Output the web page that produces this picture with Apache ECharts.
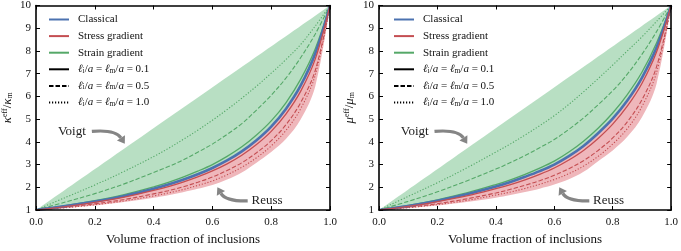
<!DOCTYPE html>
<html><head><meta charset="utf-8">
<script src="https://cdn.jsdelivr.net/npm/echarts@6/dist/echarts.min.js"></script>
<style>html,body{margin:0;padding:0;background:#fff}#c{width:681px;height:251px}</style>
</head><body><div id="c"></div>
<script>
// ---------- data ----------
const fracs = [0, 0.1, 0.2, 0.3, 0.4, 0.45, 0.5, 0.55, 0.6, 0.65, 0.7, 0.75, 0.8, 0.85, 0.9, 0.95, 1.0];
const voigtFracs = [0, 1];
const voigtVals = [1, 10];
const xTicks = [0, 0.2, 0.4, 0.6, 0.8, 1.0];
const yTicks = [1, 2, 3, 4, 5, 6, 7, 8, 9, 10];

// left panel: bulk modulus kappa
const kClassical = [1, 1.17, 1.37, 1.62, 1.93, 2.12, 2.33, 2.57, 2.85, 3.18, 3.58, 4.07, 4.67, 5.45, 6.47, 7.90, 10];
const kStrain01  = [1, 1.19, 1.41, 1.68, 2.02, 2.22, 2.45, 2.71, 3.00, 3.36, 3.78, 4.30, 4.92, 5.72, 6.75, 8.10, 10];
const kStrain05  = [1, 1.35, 1.72, 2.15, 2.65, 2.91, 3.20, 3.54, 3.90, 4.33, 4.80, 5.40, 6.05, 6.80, 7.70, 8.75, 10];
const kStrain10  = [1, 1.55, 2.10, 2.70, 3.35, 3.71, 4.10, 4.51, 4.95, 5.42, 5.92, 6.45, 7.02, 7.62, 8.28, 9.10, 10];
const kStress01  = [1, 1.15, 1.34, 1.57, 1.86, 2.03, 2.23, 2.46, 2.72, 3.03, 3.41, 3.88, 4.46, 5.22, 6.22, 7.65, 10];
const kStress05  = [1, 1.12, 1.27, 1.46, 1.71, 1.85, 2.02, 2.22, 2.45, 2.74, 3.08, 3.52, 4.05, 4.75, 5.72, 7.15, 10];
const kStress10  = [1, 1.10, 1.23, 1.40, 1.62, 1.75, 1.90, 2.08, 2.28, 2.55, 2.88, 3.30, 3.82, 4.50, 5.45, 6.95, 10];
const kReuss     = [1, 1.09, 1.20, 1.35, 1.54, 1.65, 1.78, 1.93, 2.10, 2.34, 2.65, 3.08, 3.55, 4.12, 4.98, 6.45, 10];

// right panel: shear modulus mu
const mClassical = [1, 1.18, 1.41, 1.69, 2.03, 2.23, 2.46, 2.71, 3.00, 3.37, 3.82, 4.38, 5.02, 5.82, 6.82, 8.15, 10];
const mStrain01  = [1, 1.20, 1.45, 1.75, 2.12, 2.33, 2.57, 2.84, 3.15, 3.55, 4.03, 4.60, 5.27, 6.08, 7.06, 8.35, 10];
const mStrain05  = [1, 1.38, 1.80, 2.28, 2.80, 3.09, 3.40, 3.74, 4.10, 4.55, 5.05, 5.63, 6.25, 6.98, 7.85, 8.85, 10];
const mStrain10  = [1, 1.60, 2.20, 2.85, 3.55, 3.91, 4.30, 4.71, 5.15, 5.65, 6.20, 6.78, 7.38, 8.00, 8.62, 9.30, 10];
const mStress01  = [1, 1.16, 1.37, 1.62, 1.94, 2.12, 2.33, 2.57, 2.85, 3.20, 3.62, 4.15, 4.78, 5.57, 6.57, 7.95, 10];
const mStress05  = [1, 1.12, 1.28, 1.49, 1.75, 1.91, 2.09, 2.29, 2.53, 2.82, 3.17, 3.62, 4.17, 4.88, 5.85, 7.30, 10];
const mStress10  = [1, 1.10, 1.24, 1.42, 1.66, 1.79, 1.95, 2.13, 2.34, 2.60, 2.93, 3.36, 3.90, 4.58, 5.55, 7.05, 10];
const mReuss     = [1, 1.09, 1.20, 1.35, 1.54, 1.66, 1.79, 1.94, 2.12, 2.35, 2.68, 3.15, 3.62, 4.22, 5.08, 6.55, 10];

const legendNames = ['Classical', 'Stress gradient', 'Strain gradient', 'l01', 'l05', 'l10'];
const lengthLabels = {l01: '0.1', l05: '0.5', l10: '1.0'};

// ---------- styles ----------
const SERIF = '"Liberation Serif", "DejaVu Serif", serif';
const BLUE = '#4c72b0', RED = '#c44e52', GREEN = '#55a868';
const GREEN_FILL = '#b8dfc3', PINK_FILL = '#efb7bb';
const DASH = [4.5, 2], DOT = [1.2, 1.8];

function pair(xs, ys) { return xs.map((x, i) => [x, ys[i]]); }

const panels = [
  {classical: kClassical, s01: kStrain01, s05: kStrain05, s10: kStrain10,
   t01: kStress01, t05: kStress05, t10: kStress10, reuss: kReuss, sym: 'κ', gap: 22},
  {classical: mClassical, s01: mStrain01, s05: mStrain05, s10: mStrain10,
   t01: mStress01, t05: mStress05, t10: mStress10, reuss: mReuss, sym: 'μ', gap: 23}
];

const grids = [
  {left: 35, right: 351, top: 5, bottom: 35},
  {left: 379, right: 7, top: 5, bottom: 35}
];

const axisLine = {show: true, onZero: false, lineStyle: {color: '#000', width: 1.6}};
const axisTick = {show: true, inside: true, length: 4, lineStyle: {color: '#000', width: 1}};
const labelStyle = {fontFamily: SERIF, fontSize: 11, color: '#111'};

const xAxes = [], yAxes = [], series = [], legends = [];
panels.forEach((p, g) => {
  xAxes.push({gridIndex: g, type: 'value', min: 0, max: 1, interval: 0.2, position: 'bottom', z: 10,
    axisLine, axisTick, splitLine: {show: false},
    axisLabel: Object.assign({margin: 7, formatter: v => v.toFixed(1)}, labelStyle),
    name: 'Volume fraction of inclusions', nameLocation: 'middle', nameGap: 23,
    nameTextStyle: {fontFamily: SERIF, fontSize: 13, color: '#111'}});
  xAxes.push({gridIndex: g, type: 'value', min: 0, max: 1, interval: 0.2, position: 'top', z: 10,
    axisLine, axisTick, splitLine: {show: false}, axisLabel: {show: false}});
  yAxes.push({gridIndex: g, type: 'value', min: 1, max: 10, interval: 1, position: 'left', z: 10,
    axisLine, axisTick, splitLine: {show: false},
    axisLabel: Object.assign({margin: 5}, labelStyle),
    name: `{i|${p.sym}}{sup|eff}{r|/}{i|${p.sym}}{sub|m}`, nameLocation: 'middle', nameGap: p.gap, nameRotate: 90,
    nameTextStyle: {fontFamily: SERIF, fontSize: 13, color: '#111', rich: {
      i: {fontFamily: SERIF, fontSize: 13, fontStyle: 'italic', color: '#111'},
      r: {fontFamily: SERIF, fontSize: 13, color: '#111'},
      sup: {fontFamily: SERIF, fontSize: 8, color: '#111', verticalAlign: 'top'},
      sub: {fontFamily: SERIF, fontSize: 8, color: '#111', verticalAlign: 'bottom'}
    }}});
  yAxes.push({gridIndex: g, type: 'value', min: 1, max: 10, interval: 1, position: 'right', z: 10,
    axisLine, axisTick, splitLine: {show: false}, axisLabel: {show: false}});

  const xi = g * 2, yi = g * 2;
  const area = (name, xs, ys, color, z) => ({
    type: 'line', name, xAxisIndex: xi, yAxisIndex: yi, data: pair(xs, ys), smooth: 0.35,
    symbol: 'none', silent: true, z, lineStyle: {width: 0, opacity: 0},
    areaStyle: {color, opacity: 1, origin: 'start'}
  });
  series.push(area('voigtFill' + g, voigtFracs, voigtVals, GREEN_FILL, 1));
  series.push(area('classicalFill' + g, fracs, p.classical, PINK_FILL, 2));
  series.push(area('reussFill' + g, fracs, p.reuss, '#ffffff', 3));

  const line = (name, ys, color, type, width, z) => ({
    type: 'line', name, xAxisIndex: xi, yAxisIndex: yi, data: pair(fracs, ys), smooth: 0.35,
    symbol: 'none', silent: true, z: z || 5, color,
    lineStyle: {color, type, width}
  });
  series.push(line('sg10_' + g, p.s10, GREEN, DOT, 1.1));
  series.push(line('sg05_' + g, p.s05, GREEN, DASH, 1.1));
  series.push(line('st10_' + g, p.t10, RED, DOT, 1.1));
  series.push(line('st05_' + g, p.t05, RED, DASH, 1.1));
  series.push(line('Strain gradient', p.s01, GREEN, 'solid', 1.3, 6));
  series.push(line('Classical', p.classical, BLUE, 'solid', 2.6, 6));
  series.push(line('Stress gradient', p.t01, RED, 'solid', 1.3, 7));

  legends.push({
    left: g === 0 ? 48 : 393, top: 14, padding: 0, orient: 'vertical',
    itemWidth: 20, itemHeight: 10, itemGap: 5.6, selectedMode: false,
    itemStyle: {opacity: 0, borderWidth: 0},
    data: legendNames,
    formatter: n => lengthLabels[n]
      ? `{it|ℓ}{sb|i}{rm|/}{it|a}{rm| = }{it|ℓ}{sb|m}{rm|/}{it|a}{rm| = ${lengthLabels[n]}}`
      : `{rm|${n}}`,
    textStyle: {fontFamily: SERIF, fontSize: 11, color: '#111', padding: [0, 0, 0, 4], rich: {
      rm: {fontFamily: SERIF, fontSize: 11, color: '#111'},
      it: {fontFamily: SERIF, fontSize: 11, fontStyle: 'italic', color: '#111'},
      sb: {fontFamily: SERIF, fontSize: 7.5, color: '#111', verticalAlign: 'bottom'}
    }}
  });
});

// legend-only black samples
[['l01', 'solid'], ['l05', DASH], ['l10', DOT]].forEach(([n, t]) => {
  series.push({type: 'line', name: n, xAxisIndex: 0, yAxisIndex: 0, data: [], symbol: 'none',
    color: '#000', lineStyle: {color: '#000', type: t, width: 1.4}});
});

const chart = echarts.init(document.getElementById('c'), null, {renderer: 'canvas'});
chart.setOption({
  backgroundColor: '#fff', animation: false,
  grid: grids, xAxis: xAxes, yAxis: yAxes, series, legend: legends
});

// ---------- annotations (positioned in data coordinates) ----------
const notes = {
  voigtText: [0.122, 4.46], voigtTail: [0.19, 4.46], voigtCtrl: [0.27, 4.55], voigtTip: [0.302, 3.92],
  reussText: [0.786, 1.43], reussTail: [0.72, 1.40], reussCtrl: [0.645, 1.38], reussTip: [0.617, 2.0]
};
const graphics = [];
function px(g, d) { return chart.convertToPixel({xAxisIndex: g * 2, yAxisIndex: g * 2}, d); }
function arrow(p0, c, p1) {
  const dx = p1[0] - c[0], dy = p1[1] - c[1], L = Math.hypot(dx, dy);
  const ux = dx / L, uy = dy / L, hl = 7, hw = 4.8;
  const b = [p1[0] - ux * hl, p1[1] - uy * hl];
  graphics.push({type: 'bezierCurve', z: 50,
    shape: {x1: p0[0], y1: p0[1], cpx1: c[0], cpy1: c[1], x2: b[0], y2: b[1]},
    style: {stroke: '#858585', lineWidth: 3.2, fill: 'none'}});
  graphics.push({type: 'polygon', z: 50,
    shape: {points: [p1, [b[0] - uy * hw, b[1] + ux * hw], [b[0] + uy * hw, b[1] - ux * hw]]},
    style: {fill: '#858585'}});
}
function label(p, text) {
  graphics.push({type: 'text', z: 50, x: p[0], y: p[1],
    style: {text, font: '13px ' + SERIF, fill: '#222', align: 'center', verticalAlign: 'middle',
      textAlign: 'center', textVerticalAlign: 'middle'}});
}
[0, 1].forEach(g => {
  label(px(g, notes.voigtText), 'Voigt');
  arrow(px(g, notes.voigtTail), px(g, notes.voigtCtrl), px(g, notes.voigtTip));
  label(px(g, notes.reussText), 'Reuss');
  arrow(px(g, notes.reussTail), px(g, notes.reussCtrl), px(g, notes.reussTip));
});
chart.setOption({graphic: graphics});
</script>
</body></html>
